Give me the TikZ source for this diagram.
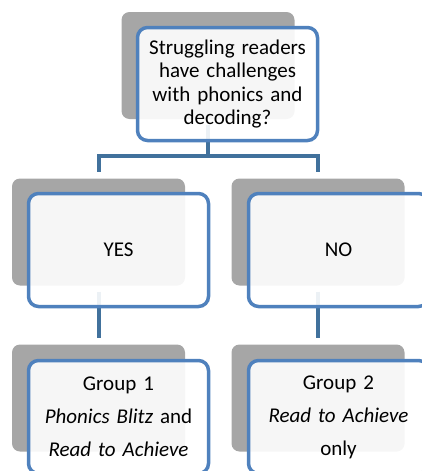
\documentclass[tikz,border=0pt]{standalone}
\usepackage{fontspec}
\setmainfont{Carlito}
\usetikzlibrary{backgrounds}
\definecolor{boxblue}{HTML}{4F81BD}
\definecolor{linkblue}{HTML}{41719C}
\definecolor{backgray}{HTML}{A6A6A6}
\begin{document}
\begin{tikzpicture}[x=1pt,y=1pt,
  back/.style={rectangle,rounded corners=8pt,fill=backgray,minimum width=173pt,minimum height=107pt},
  front/.style={rectangle,rounded corners=10pt,draw=boxblue,line width=3.5pt,fill=white,fill opacity=0.9,text opacity=1,
    minimum width=180pt,minimum height=113pt,text width=172pt,align=center,font=\fontsize{21}{23.5}\selectfont},
  group/.style={front,font=\fontsize{21}{33}\selectfont},
  link/.style={draw=linkblue,line width=4pt}]
\clip (0,0) rectangle (422,-471);
\node[back] (qback) at (208,-65.5) {};
\node[front] (q) at (227.5,-84) {Struggling readers\\have challenges\\with phonics and\\decoding?};
\node[back] (yesback) at (98.5,-232) {};
\node[front] (yes) at (118.5,-250) {YES};
\node[back] (noback) at (318,-232) {};
\node[front] (no) at (338.5,-250) {NO};
\node[back] (gaback) at (98.5,-398) {};
\node[group] (ga) at (118.5,-417) {Group 1\\\textit{Phonics Blitz} and\\\textit{Read to Achieve}};
\node[back] (gbback) at (318,-398) {};
\node[group] (gb) at (338.5,-417) {Group 2\\\textit{Read to Achieve}\\only};
\begin{pgfonlayer}{background}
\draw[link] ([yshift=-6pt]qback.south) -- ++(0,-31) -| ([yshift=6pt]yesback.north);
\draw[link] ([yshift=-6pt]qback.south) -- ++(0,-31) -| ([yshift=6pt]noback.north);
\draw[link] ([yshift=-6pt]yesback.south) -- ([yshift=6pt]gaback.north);
\draw[link] ([yshift=-6pt]noback.south) -- ([yshift=6pt]gbback.north);
\end{pgfonlayer}
\end{tikzpicture}
\end{document}
